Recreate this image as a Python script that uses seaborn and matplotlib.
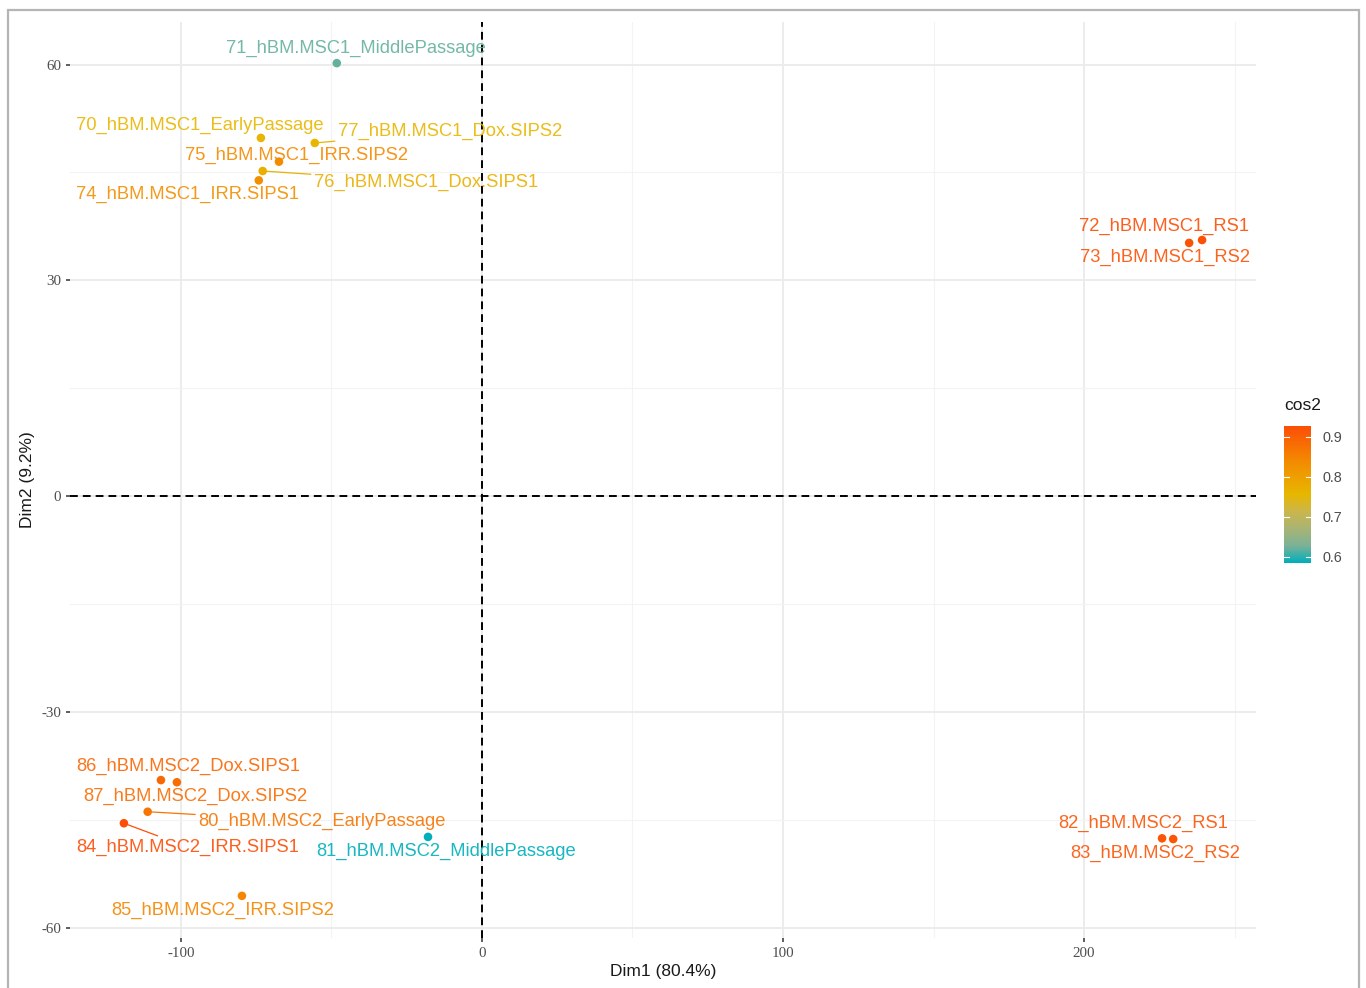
import numpy as np
import pandas as pd
import seaborn as sns
import matplotlib.pyplot as plt
from matplotlib.colors import LinearSegmentedColormap, Normalize
from matplotlib.patches import Rectangle

plt.rcParams['axes.unicode_minus'] = False

# PCA individuals (Dim1 / Dim2) with cos2 quality
samples = ['70_hBM.MSC1_EarlyPassage', '71_hBM.MSC1_MiddlePassage', '72_hBM.MSC1_RS1',
           '73_hBM.MSC1_RS2', '74_hBM.MSC1_IRR.SIPS1', '75_hBM.MSC1_IRR.SIPS2',
           '76_hBM.MSC1_Dox.SIPS1', '77_hBM.MSC1_Dox.SIPS2', '80_hBM.MSC2_EarlyPassage',
           '81_hBM.MSC2_MiddlePassage', '82_hBM.MSC2_RS1', '83_hBM.MSC2_RS2',
           '84_hBM.MSC2_IRR.SIPS1', '85_hBM.MSC2_IRR.SIPS2', '86_hBM.MSC2_Dox.SIPS1',
           '87_hBM.MSC2_Dox.SIPS2']
dim1 = [-73.4, -48.2, 239.2, 234.9, -74.1, -67.4, -72.8, -55.5,
        -111.0, -17.9, 225.9, 229.6, -118.9, -79.7, -106.6, -101.3]
dim2 = [49.8, 60.2, 35.6, 35.2, 43.9, 46.5, 45.2, 49.1,
        -43.9, -47.4, -47.6, -47.7, -45.5, -55.6, -39.5, -39.8]
cos2 = [0.76, 0.62, 0.925, 0.92, 0.83, 0.84, 0.77, 0.76,
        0.87, 0.585, 0.915, 0.915, 0.927, 0.845, 0.89, 0.88]

# label placement (offset in pixels from the point, like ggrepel) and segment flag
label_dx = [-61, 19, -38, -24, -71, 18, 163, 135, 174, 18, -19, -18, 64, -19, 27, 18]
label_dy = [-13, -15, -14, 14, 14, -6, 11, -12, 10, 15, -15, 14, 24, 15, -14, 14]
segment = [False, False, False, False, False, False, True, True,
           True, False, False, False, True, False, False, False]

df = pd.DataFrame({'name': samples, 'Dim1': dim1, 'Dim2': dim2, 'cos2': cos2})

# teal -> yellow -> orange gradient, stops as ggplot interpolates them (Lab)
grad_pos = [0, 0.125, 0.25, 0.375, 0.5, 0.75, 1]
grad_col = ['#00AFBB', '#7CB298', '#A9B475', '#CBB64D', '#E7B800', '#F48901', '#FC4E07']
cmap = LinearSegmentedColormap.from_list('cos2', list(zip(grad_pos, grad_col)))
norm = Normalize(vmin=df['cos2'].min(), vmax=df['cos2'].max())

W, H = 1366, 988
fig = plt.figure(figsize=(W / 100, H / 100), dpi=100)
fig.patch.set_facecolor('white')

# image frame
fig.patches.append(Rectangle((8 / W, -0.02), (1359 - 8) / W, (H - 10) / H + 0.02,
                             transform=fig.transFigure, fill=False,
                             edgecolor='#b5b5b5', lw=1.6))

ax = fig.add_axes([70 / W, 1 - 937.5 / H, (1256 - 70) / W, (937.5 - 21.5) / H])

# ggplot-like 5% expansion
xr = df['Dim1'].max() - df['Dim1'].min()
yr = df['Dim2'].max() - df['Dim2'].min()
ax.set_xlim(df['Dim1'].min() - 0.05 * xr, df['Dim1'].max() + 0.05 * xr)
ax.set_ylim(df['Dim2'].min() - 0.05 * yr, df['Dim2'].max() + 0.05 * yr)

ax.set_xticks([-100, 0, 100, 200])
ax.set_xticks([-50, 50, 150, 250], minor=True)
ax.set_yticks([-60, -30, 0, 30, 60])
ax.set_yticks([-45, -15, 15, 45], minor=True)
ax.grid(which='major', color='#EBEBEB', lw=1.3)
ax.grid(which='minor', color='#F3F3F3', lw=0.8)
ax.set_axisbelow(True)
for s in ax.spines.values():
    s.set_visible(False)
ax.tick_params(which='major', length=3, width=1.1, color='#333333',
               labelcolor='#4D4D4D', labelsize=10.8, pad=3.5)
ax.tick_params(which='minor', length=0)
for lab in ax.get_xticklabels() + ax.get_yticklabels():
    lab.set_family('Liberation Serif')

ax.axhline(0, color='black', lw=1.4, ls=(0, (4, 2.6)), zorder=1)
ax.axvline(0, color='black', lw=1.4, ls=(0, (4, 2.6)), zorder=1)

sns.scatterplot(data=df, x='Dim1', y='Dim2', hue='cos2', palette=cmap, hue_norm=norm,
                s=38, edgecolor='none', legend=False, ax=ax, zorder=3)

for i, row in df.iterrows():
    c = cmap(norm(row['cos2']))
    arrow = None
    if segment[i]:
        arrow = dict(arrowstyle='-', color=c, lw=0.9, shrinkA=0, shrinkB=3)
    ax.annotate(row['name'], (row['Dim1'], row['Dim2']),
                xytext=(label_dx[i], -label_dy[i]), textcoords='offset pixels',
                ha='center', va='center', color=c, fontsize=13.2, alpha=0.9,
                family='Liberation Sans', arrowprops=arrow, zorder=4)

ax.set_xlabel('Dim1 (80.4%)', fontsize=12.5, family='Liberation Sans', color='#1A1A1A')
ax.set_ylabel('Dim2 (9.2%)', fontsize=12.5, family='Liberation Sans', color='#1A1A1A')
ax.xaxis.set_label_coords(0.5, -(964 - 937.5) / (937.5 - 21.5))
ax.yaxis.set_label_coords(-(70 - 35) / (1256 - 70), (937.5 - 480) / (937.5 - 21.5))

# colour bar legend
cax = fig.add_axes([1284 / W, 1 - 563 / H, 27 / W, 137 / H])
grad = np.linspace(norm.vmin, norm.vmax, 256).reshape(-1, 1)
cax.imshow(grad, aspect='auto', cmap=cmap, norm=norm, origin='lower',
           extent=[0, 1, norm.vmin, norm.vmax])
cax.set_xlim(0, 1)
cax.set_ylim(norm.vmin, norm.vmax)
cax.set_xticks([])
cax.yaxis.tick_right()
cax.set_yticks([0.6, 0.7, 0.8, 0.9])
cax.tick_params(length=0, labelsize=10.4, labelcolor='#4D4D4D', pad=8)
for lab in cax.get_yticklabels():
    lab.set_family('Liberation Sans')
for t in [0.6, 0.7, 0.8, 0.9]:
    cax.plot([0, 0.2], [t, t], color='white', lw=0.8)
    cax.plot([0.8, 1], [t, t], color='white', lw=0.8)
for s in cax.spines.values():
    s.set_visible(False)
fig.text(1284 / W, 1 - 405 / H, 'cos2', ha='left', va='center', fontsize=12.5,
         family='Liberation Sans', color='#1A1A1A')

fig.savefig('out.png', dpi=100)
